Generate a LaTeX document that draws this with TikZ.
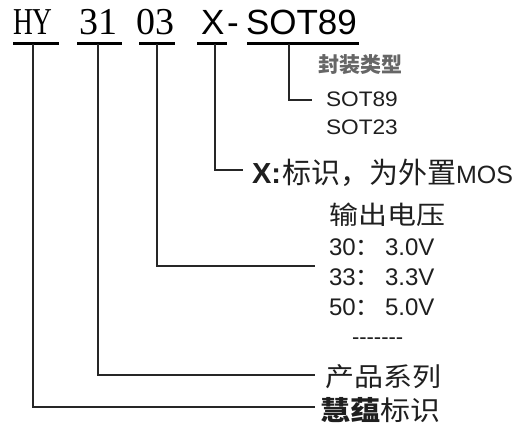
\documentclass[tikz,border=0pt]{standalone}
\usepackage{fontspec}
\setmainfont{Liberation Sans}
\newfontfamily\serfnt{Liberation Serif}
\newfontfamily\cjk{Noto Sans CJK SC}
\newcommand{\fs}[1]{\fontsize{#1}{#1}\selectfont}
\begin{document}
\begin{tikzpicture}[x=1pt,y=-1pt,
  txt/.style={anchor=base west,inner sep=0pt,outer sep=0pt,text=black!88},
  small/.style={txt,text=black!60},
  uline/.style={line width=3pt,draw=black},
  conn/.style={line width=1.4pt,draw=black!85}]
\useasboundingbox[fill=white] (0,0) rectangle (525,425);
% top code
\node[txt,text=black] (hy) at (13,35) {\serfnt\fs{38}\scalebox{0.72}[1]{HY}};
\node[txt,text=black] (n31) at (79,35) {\serfnt\fs{38}31};
\node[txt,text=black] (n03) at (136,35) {\serfnt\fs{38}03};
\node[txt,text=black] (x) at (201,35) {\fs{35}X};
\node[txt,text=black] (dash) at (227,35) {\fs{35}-};
\node[txt,text=black] (sot) at (246,35) {\fs{35}SOT89};
% underlines
\coordinate (hyA) at (13,44);  \coordinate (hyB) at (59,44);
\coordinate (aA) at (77,44);   \coordinate (aB) at (122,44);
\coordinate (bA) at (139,44);  \coordinate (bB) at (175,44);
\coordinate (xA) at (197,44);  \coordinate (xB) at (227,44);
\coordinate (sA) at (247,44);  \coordinate (sB) at (359,44);
\draw[uline] (hyA) -- (hyB);
\draw[uline] (aA) -- (aB);
\draw[uline] (bA) -- (bB);
\draw[uline] (xA) -- (xB);
\draw[uline] (sA) -- (sB);
% right-hand labels
\node[small] (pkg) at (318,73) {\cjk\fs{21}\bfseries 封装类型};
\node[txt] (s89) at (326,107) {\fs{21}\scalebox{1.08}[1]{SOT89}};
\node[txt] (s23) at (326,135) {\fs{21}\scalebox{1.08}[1]{SOT23}};
\node[txt] (xl) at (252,183) {{\bfseries\fs{29}X:}\hspace{1pt}{\cjk\fs{29}标识，为外置}{\fs{25}MOS}};
\node[txt] (vout) at (329,224) {\cjk\fs{29}\scalebox{1}[0.88]{输出电压}};
\node[txt] (v30) at (329,255) {\fs{24}30\cjk：};
\node[txt] (v30b) at (385,255) {\fs{24}3.0V};
\node[txt] (v33) at (329,285) {\fs{24}33\cjk：};
\node[txt] (v33b) at (385,285) {\fs{24}3.3V};
\node[txt] (v50) at (329,315) {\fs{24}50\cjk：};
\node[txt] (v50b) at (385,315) {\fs{24}5.0V};
\node[txt] (dots) at (352,344) {\fs{22}{-}{-}{-}{-}{-}{-}{-}};
\node[txt] (series) at (325,386) {\cjk\fs{29}\scalebox{1}[0.9]{产品系列}};
\node[txt] (brand) at (320,420) {\cjk\fs{30}\scalebox{1}[0.9]{{\bfseries 慧蕴}标识}};
% connectors
\coordinate (e5) at (312,100);
\coordinate (e4) at (243,170);
\coordinate (e3) at (315,266);
\coordinate (e2) at (315,375);
\coordinate (e1) at (315,407);
\draw[conn] (289,44) |- (e5);
\draw[conn] (215,44) |- (e4);
\draw[conn] (157,44) |- (e3);
\draw[conn] (98,44) |- (e2);
\draw[conn] (33,44) |- (e1);
\end{tikzpicture}
\end{document}
